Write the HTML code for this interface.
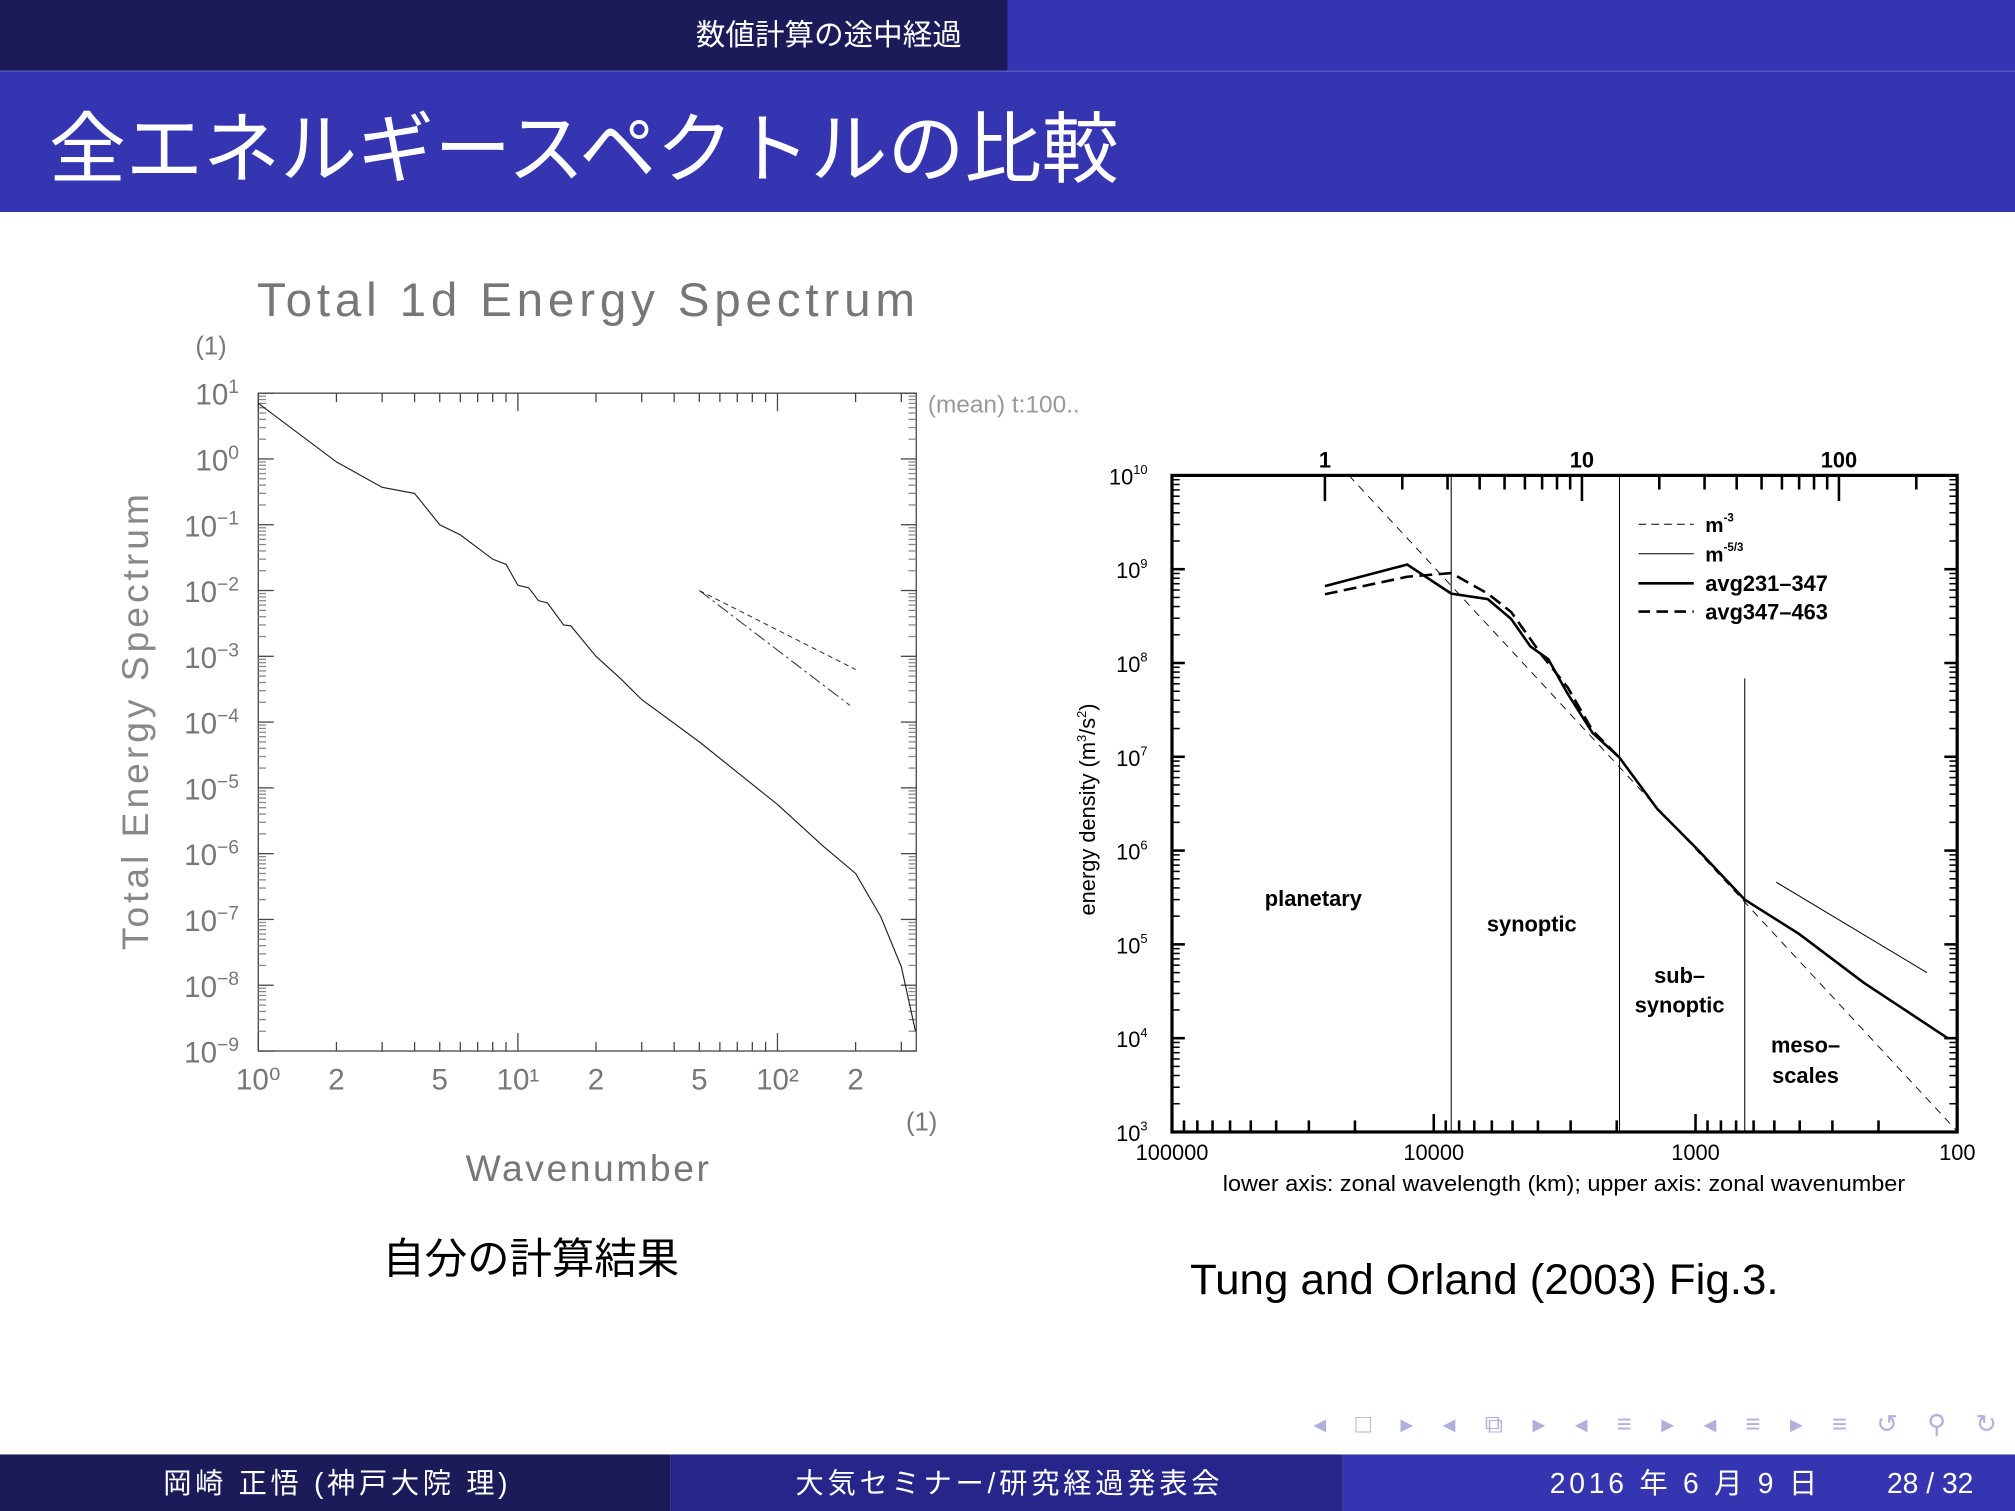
<!DOCTYPE html>
<html><head><meta charset="utf-8">
<style>
html,body{margin:0;padding:0;background:#fff;}
svg{display:block;}
text{font-family:"Liberation Sans","Noto Sans CJK JP",sans-serif;}
</style></head>
<body>
<svg id="s" width="2015" height="1511" viewBox="0 0 1568 1176" preserveAspectRatio="none" xmlns="http://www.w3.org/2000/svg">
<rect x="0" y="0" width="784" height="55" fill="#1b1b5a"/>
<rect x="784" y="0" width="784" height="55" fill="#3535b2"/>
<text x="645" y="35" font-size="23" fill="#fff" text-anchor="middle">数値計算の途中経過</text>
<rect x="0" y="55" width="1568" height="110" fill="#3535b2"/>
<line x1="0" y1="55.5" x2="1568" y2="55.5" stroke="#5555c0" stroke-width="1"/>
<text x="38" y="137" font-size="60" fill="#fff">全エネルギースペクトルの比較</text>

<g id="left">
<text x="200" y="246" font-size="37" fill="#777" textLength="512" lengthAdjust="spacing">Total 1d Energy Spectrum</text>
<text x="152" y="276" font-size="20" fill="#777">(1)</text>
<text x="722" y="321" font-size="19" fill="#999">(mean) t:100..</text>
<text x="705" y="880" font-size="20" fill="#777">(1)</text>
<text x="458" y="919" font-size="29" fill="#777" text-anchor="middle" letter-spacing="2">Wavenumber</text>
<text transform="translate(115,562) rotate(-90)" font-size="29" fill="#888" text-anchor="middle" textLength="355" lengthAdjust="spacing">Total Energy Spectrum</text>
<rect x="201" y="306" width="512" height="512" fill="none" stroke="#444" stroke-width="1"/>
</g>

<g id="right">
<rect x="912" y="370" width="611" height="511" fill="none" stroke="#000" stroke-width="2.5"/>
<text transform="translate(852,630) rotate(-90)" font-size="17" fill="#000" text-anchor="middle">energy density (m<tspan font-size="10" dy="-7">3</tspan><tspan dy="7">/s</tspan><tspan font-size="10" dy="-7">2</tspan><tspan dy="7">)</tspan></text>
<text x="1217" y="927" font-size="17" fill="#000" text-anchor="middle" textLength="531" lengthAdjust="spacingAndGlyphs">lower axis: zonal wavelength (km); upper axis: zonal wavenumber</text>
<text x="1022" y="705" font-size="17" font-weight="bold" text-anchor="middle">planetary</text>
<text x="1192" y="725" font-size="17" font-weight="bold" text-anchor="middle">synoptic</text>
<text x="1307" y="765" font-size="17" font-weight="bold" text-anchor="middle">sub–</text>
<text x="1307" y="788" font-size="17" font-weight="bold" text-anchor="middle">synoptic</text>
<text x="1405" y="819" font-size="17" font-weight="bold" text-anchor="middle">meso–</text>
<text x="1405" y="843" font-size="17" font-weight="bold" text-anchor="middle">scales</text>
<g>
<line x1="1275" y1="408" x2="1318" y2="408" stroke="#000" stroke-width="0.8" stroke-dasharray="6,4"/>
<text x="1327" y="414" font-size="16" font-weight="bold">m<tspan font-size="9" dy="-8">-3</tspan></text>
<line x1="1275" y1="431" x2="1318" y2="431" stroke="#000" stroke-width="0.8"/>
<text x="1327" y="437" font-size="16" font-weight="bold">m<tspan font-size="9" dy="-8">-5/3</tspan></text>
<line x1="1275" y1="454" x2="1318" y2="454" stroke="#000" stroke-width="2"/>
<text x="1327" y="460" font-size="17" font-weight="bold">avg231–347</text>
<line x1="1275" y1="476" x2="1318" y2="476" stroke="#000" stroke-width="2" stroke-dasharray="9,5"/>
<text x="1327" y="482" font-size="17" font-weight="bold">avg347–463</text>
</g>
</g>

<text x="413" y="991" font-size="33" fill="#000" text-anchor="middle">自分の計算結果</text>
<text x="1155" y="1007" font-size="33" fill="#000" text-anchor="middle" textLength="458" lengthAdjust="spacingAndGlyphs">Tung and Orland (2003) Fig.3.</text>

<g fill="#b0b0dc" font-size="20">
<text x="1022" y="1115" textLength="532" lengthAdjust="spacing">◂ □ ▸  ◂ ⧉ ▸  ◂ ≡ ▸  ◂ ≡ ▸   ≡   ↺ ⚲ ↻</text>
</g>
<rect x="0" y="1132" width="522" height="44" fill="#1b1b5a"/>
<rect x="522" y="1132" width="523" height="44" fill="#26268a"/>
<rect x="1045" y="1132" width="523" height="44" fill="#3535b2"/>
<text x="261" y="1162" font-size="22" fill="#fff" text-anchor="middle" textLength="268" lengthAdjust="spacing">岡崎 正悟  (神戸大院 理)</text>
<text x="784" y="1162" font-size="22" fill="#fff" text-anchor="middle" textLength="330" lengthAdjust="spacing">大気セミナー/研究経過発表会</text>
<text x="1310" y="1162" font-size="22" fill="#fff" text-anchor="middle" textLength="208" lengthAdjust="spacing">2016 年 6 月 9 日</text>
<text x="1502" y="1162" font-size="22" fill="#fff" text-anchor="middle">28 / 32</text>
</svg>
<script>
// Left chart data (wavenumber, energy)
const leftK = [1,2,3,4,5,6,8,9,10,11,12,13,15,16,20,25,30,50,100,150,200,250,300,340];
const leftE = [7,0.9,0.37,0.3,0.1,0.07,0.03,0.025,0.012,0.011,0.007,0.0065,0.003,0.0029,0.001,4.5e-4,2.2e-4,5e-5,5.6e-6,1.3e-6,5e-7,1.1e-7,1.9e-8,2e-9];
const refK = [50,200];
const refSlope2 = [0.01,6.3e-4];
const refSlope3 = [0.01,1.8e-4];
const leftYTicks = [1,0,-1,-2,-3,-4,-5,-6,-7,-8,-9];
const leftXLabels = ["10⁰","2","5","10¹","2","5","10²","2"];
const leftXLabelVals = [1,2,5,10,20,50,100,200];

// Right chart data (zonal wavenumber, energy density)
const solidM = [1,2.09,3.1,4.3,5.3,6.3,7.4,8.8,11,14,19.7,27.8,43,70,125,265];
const solidE = [6.6e8,1.12e9,5.5e8,4.8e8,2.95e8,1.5e8,1.1e8,4.7e7,1.8e7,9.8e6,2.75e6,1.07e6,3.0e5,1.29e5,3.9e4,1.0e4];
const dashM = [1,2.09,3.1,4.3,5.3,7.0,8.8,11,14];
const dashE = [5.4e8,8.3e8,9.1e8,5.5e8,3.5e8,1.2e8,5.5e7,1.9e7,9.8e6];
const m3M = [1.24,290];
const m3E = [1e10,1e3];
const m53M = [57,220];
const m53E = [4.6e5,5.0e4];
const vlineM = [3.1,14,43];
const rightYTicks = [3,4,5,6,7,8,9,10];
const bottomLabels = ["100000","10000","1000","100"];
const bottomVals = [100000,10000,1000,100];
const topLabels = ["1","10","100"];
const topVals = [1,10,100];

const NS = "http://www.w3.org/2000/svg";
const svg = document.getElementById('s');
function mk(tag, attrs, parent){const e=document.createElementNS(NS,tag);for(const k in attrs)e.setAttribute(k,attrs[k]);(parent||svg).appendChild(e);return e;}

// left axes
const lx = k => 201 + 202*Math.log10(k);
const ly = e => 306 + 51.2*(1 - Math.log10(e));
const L = document.getElementById('left');
leftYTicks.forEach(p=>{
  const y = ly(Math.pow(10,p));
  mk('line',{x1:201,x2:213,y1:y,y2:y,stroke:'#444'},L);
  mk('line',{x1:701,x2:713,y1:y,y2:y,stroke:'#444'},L);
  for(let m=2;m<10&&p>-9;m++){const yy=ly(Math.pow(10,p-1)*m);mk('line',{x1:201,x2:207,y1:yy,y2:yy,stroke:'#888'},L);mk('line',{x1:707,x2:713,y1:yy,y2:yy,stroke:'#888'},L);}
  const t = mk('text',{x:186,y:y+9,'font-size':23,fill:'#777','text-anchor':'end'},L);
  
  
  t.textContent = '10';
  const s = mk('tspan',{'font-size':15,dy:-9},t); s.textContent = p<0?('−'+(-p)):String(p);
});
for(let d=0;d<3;d++)for(let m=1;m<10;m++){const k=Math.pow(10,d)*m;if(k>340)break;const x=lx(k);const h=m==1?14:7;
  mk('line',{x1:x,x2:x,y1:818,y2:818-h,stroke:'#444'},L);mk('line',{x1:x,x2:x,y1:306,y2:306+h,stroke:'#444'},L);}
leftXLabelVals.forEach((v,i)=>{
  const t = mk('text',{x:lx(v),y:848,'font-size':23,fill:'#777','text-anchor':'middle'},L);
  
  
  t.textContent = leftXLabels[i];
});
const lp = mk('path',{d:leftK.map((k,i)=>(i?'L':'M')+lx(k).toFixed(1)+','+ly(leftE[i]).toFixed(1)).join(''),fill:'none',stroke:'#222','stroke-width':0.9},L);


const r2 = mk('line',{x1:lx(refK[0]),y1:ly(refSlope2[0]),x2:lx(refK[1]),y2:ly(refSlope2[1]),stroke:'#333','stroke-width':0.8,'stroke-dasharray':'4,3'},L);


const r3 = mk('line',{x1:lx(refK[0]),y1:ly(refSlope3[0]),x2:lx(190),y2:ly(refSlope3[1]),stroke:'#333','stroke-width':0.8,'stroke-dasharray':'10,3,2,3'},L);



// right axes
const rx = m => 1031 + 200*Math.log10(m);
const rxl = w => 912 + 203.7*(5 - Math.log10(w));
const ry = e => 370 + 73*(10 - Math.log10(e));
const R = document.getElementById('right');
rightYTicks.forEach(p=>{
  const y = ry(Math.pow(10,p));
  mk('line',{x1:912,x2:922,y1:y,y2:y,stroke:'#000','stroke-width':2},R);
  mk('line',{x1:1513,x2:1523,y1:y,y2:y,stroke:'#000','stroke-width':2},R);
  if(p<10)for(let m=2;m<10;m++){const yy=ry(Math.pow(10,p)*m);mk('line',{x1:912,x2:918,y1:yy,y2:yy,stroke:'#000','stroke-width':1.2},R);mk('line',{x1:1517,x2:1523,y1:yy,y2:yy,stroke:'#000','stroke-width':1.2},R);}
  const t = mk('text',{x:893,y:y+7,'font-size':17,'text-anchor':'end'},R);
  
  
  t.textContent='10';
  const s = mk('tspan',{'font-size':10,dy:-8},t); s.textContent=String(p);
});
bottomVals.forEach((w,i)=>{
  const t = mk('text',{x:rxl(w),y:903,'font-size':17,'text-anchor':'middle'},R);
  
  
  t.textContent = bottomLabels[i];
});
for(let d=2;d<5;d++)for(let m=1;m<10;m++){const x=rxl(Math.pow(10,d)*m);mk('line',{x1:x,x2:x,y1:881,y2:881-(m==1?14:9),stroke:'#000','stroke-width':2},R);}
topVals.forEach((m,i)=>{
  const t = mk('text',{x:rx(m),y:364,'font-size':17,'font-weight':'bold','text-anchor':'middle'},R);
  
  
  t.textContent = topLabels[i];
});
for(let d=0;d<3;d++)for(let m=1;m<10;m++){const k=Math.pow(10,d)*m;const x=rx(k);if(x>1522)break;mk('line',{x1:x,x2:x,y1:370,y2:370+(m==1?20:11),stroke:'#000','stroke-width':2},R);}
vlineM.forEach((m,i)=>{
  const v = mk('line',{x1:rx(m),x2:rx(m),y1:i==2?528:370,y2:881,stroke:'#000','stroke-width':0.8},R);
  
  
});
const path = (M,E)=>M.map((m,i)=>(i?'L':'M')+rx(m).toFixed(1)+','+ry(E[i]).toFixed(1)).join('');
const a = mk('path',{d:path(m3M,m3E),fill:'none',stroke:'#000','stroke-width':0.7,'stroke-dasharray':'6,5'},R);


const b = mk('path',{d:path(m53M,m53E),fill:'none',stroke:'#000','stroke-width':0.8},R);


const c = mk('path',{d:path(dashM,dashE),fill:'none',stroke:'#000','stroke-width':2,'stroke-dasharray':'10,5'},R);


const d = mk('path',{d:path(solidM,solidE),fill:'none',stroke:'#000','stroke-width':2},R);


</script>
</body></html>
